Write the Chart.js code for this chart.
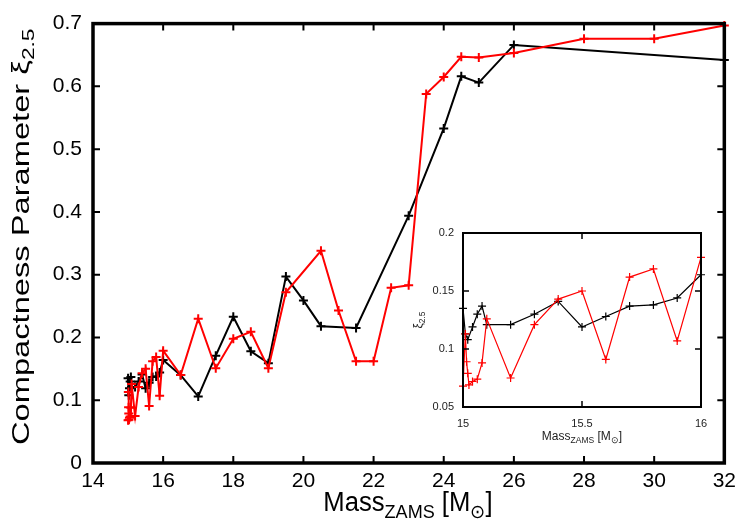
<!DOCTYPE html>
<html><head><meta charset="utf-8">
<script src="https://cdn.jsdelivr.net/npm/chart.js@4/dist/chart.umd.min.js"></script>
<style>
html,body{margin:0;padding:0;background:#fff;}
#wrap{position:relative;width:742px;height:523px;overflow:hidden;}
canvas{position:absolute;left:0;top:0;}
</style></head><body>
<div id="wrap"><canvas id="main" width="742" height="523"></canvas><canvas id="inset" width="742" height="523"></canvas></div>
<script>
// ---- data ----
const massBlack = [15.00, 15.01, 15.02, 15.04, 15.06, 15.08, 15.1, 15.2, 15.3, 15.4, 15.5, 15.6, 15.7, 15.8, 15.9, 16.0, 16.5, 17, 17.5, 18, 18.5, 19, 19.5, 20, 20.5, 21.5, 23, 24, 24.5, 25, 26, 32];
const xiBlack   = [0.135, 0.113, 0.108, 0.119, 0.130, 0.137, 0.121, 0.121, 0.130, 0.141, 0.119, 0.128, 0.137, 0.138, 0.144, 0.164, 0.140, 0.106, 0.171, 0.233, 0.178, 0.159, 0.297, 0.259, 0.218, 0.215, 0.394, 0.533, 0.616, 0.606, 0.666, 0.642];
const massRed = [15.00, 15.01, 15.015, 15.02, 15.025, 15.04, 15.06, 15.08, 15.1, 15.2, 15.3, 15.4, 15.5, 15.6, 15.7, 15.8, 15.9, 16.0, 16.5, 17, 17.5, 18, 18.5, 19, 19.5, 20.5, 21, 21.5, 22, 22.5, 23, 23.5, 24, 24.5, 25, 26, 28, 30, 32];
const xiRed   = [0.068, 0.113, 0.089, 0.079, 0.069, 0.072, 0.074, 0.088, 0.126, 0.075, 0.121, 0.143, 0.150, 0.091, 0.162, 0.169, 0.107, 0.179, 0.140, 0.230, 0.151, 0.198, 0.209, 0.151, 0.272, 0.338, 0.243, 0.162, 0.162, 0.279, 0.283, 0.588, 0.615, 0.647, 0.646, 0.653, 0.676, 0.676, 0.697];
const mainXTicks = [14, 16, 18, 20, 22, 24, 26, 28, 30, 32];
const mainYTicks = [0, 0.1, 0.2, 0.3, 0.4, 0.5, 0.6, 0.7];
const insetXTicks = [15, 15.5, 16];
const insetYTicks = [0.05, 0.1, 0.15, 0.2];
const mainXTitle = [["Mass",0],["ZAMS",1],[" [M",0],["\u2299",1],["]",0]];
const mainYTitle = [["Compactness Parameter ",0],["\u03BE",0],["2.5",1]];
const insetYTitle = [["\u03BE",0],["2.5",1]];

const FONT = "'Liberation Sans', Arial, sans-serif";
Chart.defaults.font.family = FONT;
Chart.defaults.color = '#000';

function pts(xs, ys){ return xs.map((v,i)=>({x:v, y:ys[i]})); }

function richWidth(ctx, parts, big, small){
  let w=0; parts.forEach(([t,s])=>{ctx.font=(s?small:big)+"px "+FONT; w+=ctx.measureText(t).width;}); return w;
}
function drawRich(ctx, parts, big, small, subDy, align){
  let w = richWidth(ctx, parts, big, small);
  let x = align==='center' ? -w/2 : 0;
  ctx.textBaseline='alphabetic'; ctx.textAlign='left';
  parts.forEach(([t,s])=>{ctx.font=(s?small:big)+"px "+FONT; ctx.fillText(t, x, s?subDy:0); x+=ctx.measureText(t).width;});
}

const framePlugin = {
  id:'frame',
  afterDatasetsDraw(chart, args, o){
    const {ctx, chartArea:a} = chart;
    const x = chart.scales.x, y = chart.scales.y;
    ctx.save();
    ctx.strokeStyle='#000';
    ctx.lineWidth=o.tickWidth;
    ctx.beginPath();
    x.ticks.forEach(t=>{const p=x.getPixelForValue(t.value);
      ctx.moveTo(p,a.bottom); ctx.lineTo(p,a.bottom-o.tickLen);
      ctx.moveTo(p,a.top); ctx.lineTo(p,a.top+o.tickLen);});
    y.ticks.forEach(t=>{const p=y.getPixelForValue(t.value);
      ctx.moveTo(a.left,p); ctx.lineTo(a.left+o.tickLen,p);
      ctx.moveTo(a.right,p); ctx.lineTo(a.right-o.tickLen,p);});
    ctx.stroke();
    ctx.lineWidth=o.frameWidth;
    ctx.strokeRect(a.left,a.top,a.right-a.left,a.bottom-a.top);
    ctx.fillStyle=o.titleColor;
    // x title
    ctx.save(); ctx.translate(o.xt.x, o.xt.y); ctx.scale(o.xt.sx,1);
    drawRich(ctx, o.xt.parts, o.xt.big, o.xt.small, o.xt.dy, 'center'); ctx.restore();
    // y title
    ctx.save(); ctx.translate(o.yt.x, o.yt.y); ctx.rotate(-Math.PI/2); ctx.scale(o.yt.sx,1);
    drawRich(ctx, o.yt.parts, o.yt.big, o.yt.small, o.yt.dy, o.yt.align); ctx.restore();
    ctx.restore();
  }
};

function makeChart(id, cfg){
  return new Chart(document.getElementById(id), {
    type:'line',
    data:{datasets:[
      {data:pts(massRed, xiRed), borderColor:'#ff0000', backgroundColor:'#ff0000', borderWidth:cfg.lw, pointStyle:'cross', pointRadius:cfg.pr, pointBorderWidth:cfg.pw, pointBorderColor:'#ff0000', tension:0, order:0, clip:false},
      {data:pts(massBlack, xiBlack), borderColor:'#000000', backgroundColor:'#000000', borderWidth:cfg.lw, pointStyle:'cross', pointRadius:cfg.pr, pointBorderWidth:cfg.pw, pointBorderColor:'#000000', tension:0, order:1, clip:false}
    ]},
    options:{
      responsive:false, animation:false, devicePixelRatio:1,
      layout:{padding:cfg.pad},
      plugins:{legend:{display:false}, tooltip:{enabled:false}, frame:cfg.frame},
      scales:{
        x:{type:'linear', min:cfg.xmin, max:cfg.xmax,
          afterBuildTicks:s=>{s.ticks=cfg.xticks.map(v=>({value:v}));},
          afterFit:s=>{s.height=cfg.xh;},
          grid:{display:false, drawTicks:false}, border:{display:false},
          ticks:{font:{size:cfg.fs, family:FONT}, color:cfg.tc, padding:cfg.xpad, maxRotation:0, autoSkip:false, callback:v=>cfg.xfmt(v)}},
        y:{type:'linear', min:cfg.ymin, max:cfg.ymax,
          afterBuildTicks:s=>{s.ticks=cfg.yticks.map(v=>({value:v}));},
          afterFit:s=>{s.width=cfg.yw;},
          grid:{display:false, drawTicks:false}, border:{display:false},
          ticks:{font:{size:cfg.fs, family:FONT}, color:cfg.tc, padding:cfg.ypad, autoSkip:false, callback:v=>cfg.yfmt(v)}}
      }
    },
    plugins:[framePlugin]
  });
}

makeChart('main', {
  lw:2, pr:4.5, pw:2, pad:{left:0,right:15,top:18,bottom:0},
  xmin:14, xmax:32, ymin:0, ymax:0.7, xticks:mainXTicks, yticks:mainYTicks,
  xh:60, yw:93, fs:21, tc:'#000', xpad:6, ypad:11,
  xfmt:v=>String(v), yfmt:v=>(v===0?'0':v.toFixed(1)),
  frame:{tickWidth:2, tickLen:7, frameWidth:3.5, titleColor:'#000',
    xt:{x:408, y:511, sx:0.95, parts:mainXTitle, big:27, small:19, dy:7},
    yt:{x:29, y:445, sx:1.42, parts:mainYTitle, big:23, small:16, dy:5, align:'left'}}
});

makeChart('inset', {
  lw:1.2, pr:4, pw:1.2, pad:{left:0,right:41,top:233,bottom:0},
  xmin:15, xmax:16, ymin:0.05, ymax:0.2, xticks:insetXTicks, yticks:insetYTicks,
  xh:116, yw:463, fs:11, tc:'#222', xpad:10, ypad:9,
  xfmt:v=>String(v), yfmt:v=>String(v),
  frame:{tickWidth:1.5, tickLen:6, frameWidth:2, titleColor:'#222',
    xt:{x:582, y:440, sx:1, parts:mainXTitle, big:12, small:8.5, dy:3},
    yt:{x:422, y:320, sx:1, parts:insetYTitle, big:12, small:8.5, dy:3, align:'center'}}
});
</script>
</body></html>
